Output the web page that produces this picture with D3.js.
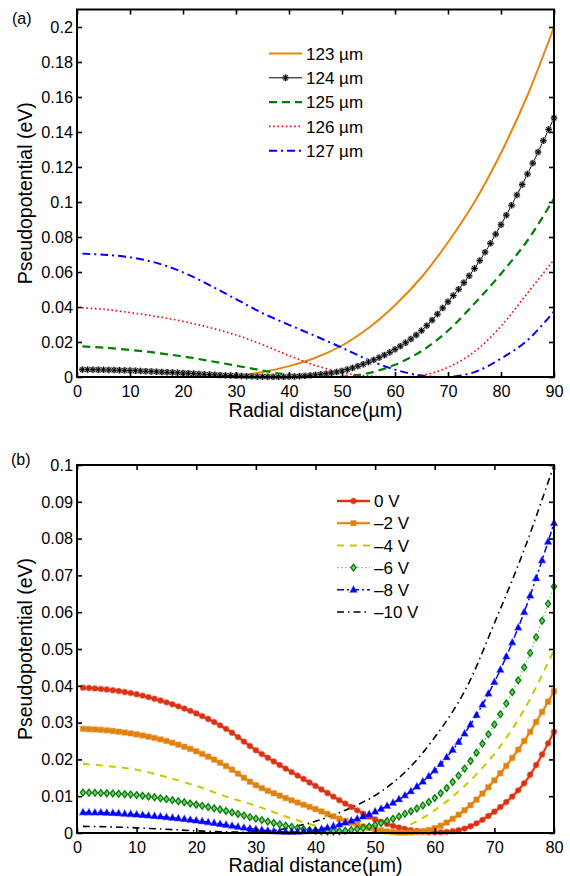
<!DOCTYPE html>
<html><head><meta charset="utf-8">
<script src="https://cdn.jsdelivr.net/npm/d3@7"></script>
<style>
html,body{margin:0;padding:0;background:#fff;}
svg{display:block;font-family:"Liberation Sans",Arial,Helvetica,sans-serif;}
</style></head>
<body>
<svg id="chart" width="570" height="876"></svg>
<script>
// ---------- data: panel (a) ----------
const xA = [1,5,10,15,20,25,30,35,40,45,50,55,60,65,70,75,80,85,90];
const a123 = [0,0,0,0,0,0,0.0008,0.0028,0.0062,0.011,0.018,0.028,0.041,0.057,0.077,0.1,0.128,0.161,0.2];
const a124 = [0.0042,0.0041,0.0037,0.003,0.0023,0.0014,0.0007,0.0002,0.0002,0.0012,0.0035,0.0085,0.0158,0.0265,0.043,0.062,0.087,0.116,0.148];
const a125 = [0.0175,0.0168,0.0155,0.0138,0.0117,0.0092,0.0065,0.0037,0.0013,0.0002,0.0001,0.0022,0.007,0.0148,0.0265,0.042,0.059,0.078,0.102];
const a126 = [0.0395,0.0387,0.0368,0.0346,0.0318,0.0283,0.024,0.0185,0.0122,0.0066,0.0025,0.0006,0,0.0009,0.0055,0.0145,0.029,0.048,0.067];
const a127 = [0.0705,0.0699,0.0684,0.0652,0.0598,0.0525,0.0445,0.0365,0.0298,0.0234,0.0167,0.0098,0.0042,0.0008,0,0.0028,0.0105,0.021,0.0375];
const labelsA = ["123 \u00b5m","124 \u00b5m","125 \u00b5m","126 \u00b5m","127 \u00b5m"];
const xTicksA = [0,10,20,30,40,50,60,70,80,90];
const yTicksA = [0,0.02,0.04,0.06,0.08,0.1,0.12,0.14,0.16,0.18,0.2];

// ---------- data: panel (b) ----------
const xB = [1,5,10,15,20,25,30,35,40,45,50,55,60,65,70,75,80];
const b0  = [0.0395,0.039,0.0377,0.0355,0.0325,0.0283,0.0225,0.0175,0.0128,0.008,0.0037,0.0011,0.0002,0.0012,0.0058,0.0135,0.0275];
const b2  = [0.0283,0.0279,0.0268,0.025,0.0222,0.0182,0.013,0.0095,0.0065,0.0033,0.001,0.0001,0.0013,0.0062,0.0143,0.025,0.0385];
const b4  = [0.0188,0.0182,0.0172,0.0152,0.0128,0.0099,0.0074,0.0045,0.002,0.0005,0.0002,0.0017,0.0062,0.0128,0.0215,0.0335,0.0497];
const b6  = [0.011,0.0108,0.0103,0.0092,0.0077,0.006,0.0039,0.002,0.0006,0.0006,0.0022,0.0052,0.0095,0.0175,0.0295,0.045,0.067];
const b8  = [0.0056,0.0055,0.005,0.0043,0.0034,0.0022,0.001,0.0003,0.0008,0.0028,0.0058,0.0102,0.017,0.027,0.041,0.06,0.0842];
const b10 = [0.0018,0.0017,0.0014,0.001,0.0006,0.0003,0.0003,0.0012,0.0032,0.0062,0.0102,0.0165,0.026,0.0385,0.057,0.077,0.1];
const labelsB = ["0 V","\u20132 V","\u20134 V","\u20136 V","\u20138 V","\u201310 V"];
const xTicksB = [0,10,20,30,40,50,60,70,80];
const yTicksB = [0,0.01,0.02,0.03,0.04,0.05,0.06,0.07,0.08,0.09,0.1];

const svg = d3.select("#chart");
const fmt = d3.format("~g");

// marker drawers
const markers = {
  asterisk: (g,x,y)=>{ const r=3.2, d=2.3;
    const p=`M${x-r},${y}L${x+r},${y}M${x},${y-r}L${x},${y+r}M${x-d},${y-d}L${x+d},${y+d}M${x-d},${y+d}L${x+d},${y-d}`;
    g.append("path").attr("d",p).attr("stroke","#999").attr("stroke-width",2.4).attr("fill","none");
    g.append("path").attr("d",p).attr("stroke","#000").attr("stroke-width",1).attr("fill","none"); },
  circle: (g,x,y,c)=>{ g.append("circle").attr("cx",x).attr("cy",y).attr("r",2.7).attr("fill",c).attr("stroke",c).attr("stroke-opacity",0.4).attr("stroke-width",1.4); },
  square: (g,x,y,c)=>{ g.append("rect").attr("x",x-2.6).attr("y",y-2.6).attr("width",5.2).attr("height",5.2).attr("fill",c).attr("stroke",c).attr("stroke-opacity",0.4).attr("stroke-width",1.4); },
  diamond: (g,x,y,c)=>{ g.append("path").attr("d",`M${x},${y-3.4}L${x+2.6},${y}L${x},${y+3.4}L${x-2.6},${y}Z`).attr("fill","#7fc07f").attr("stroke",c).attr("stroke-width",1.3); },
  triangle: (g,x,y,c)=>{ g.append("path").attr("d",`M${x},${y-3.8}L${x+3.4},${y+2.4}L${x-3.4},${y+2.4}Z`).attr("fill",c).attr("stroke",c).attr("stroke-opacity",0.45).attr("stroke-width",1.2); }
};

function panel(cfg){
  const {left,right,top,bottom,xMax,yMax,xTicks,yTicks,series,xs} = cfg;
  const x = d3.scaleLinear().domain([0,xMax]).range([left,right]);
  const y = d3.scaleLinear().domain([0,yMax]).range([bottom,top]);
  const g = svg.append("g");
  const clipId = "clip"+cfg.id;
  svg.append("clipPath").attr("id",clipId).append("rect")
     .attr("x",left).attr("y",top-2).attr("width",right-left).attr("height",bottom-top+2);
  const plot = g.append("g").attr("clip-path",`url(#${clipId})`);
  const line = d3.line().x((d,i)=>x(xs[i])).y(d=>y(Math.max(0,d))).curve(d3.curveCatmullRom.alpha(0.5));
  series.forEach(s=>{
    if (s.halo) plot.append("path").attr("d",line(s.values)).attr("fill","none")
       .attr("stroke",s.halo).attr("stroke-width",s.haloW||4).attr("stroke-opacity",0.45);
    const p = plot.append("path").attr("d",line(s.values)).attr("fill","none")
       .attr("stroke",s.lineColor||s.color).attr("stroke-width",s.width)
       .attr("stroke-dasharray",s.dash||null);
    if (s.marker){
      const node = p.node(), L = node.getTotalLength();
      const mg = g.append("g");
      for (let v = xs[0]; v <= xMax + 1e-9; v += s.step){
        const px = x(v); let lo=0, hi=L;
        for (let k=0;k<30;k++){ const m=(lo+hi)/2; if (node.getPointAtLength(m).x < px) lo=m; else hi=m; }
        const pt = node.getPointAtLength((lo+hi)/2);
        markers[s.marker](mg, pt.x, Math.min(pt.y,bottom), s.color);
      }
    }
  });
  // axes (ticks inward on all sides)
  const ax = (axis, tr, labels) => {
    const a = g.append("g").attr("transform",tr).call(axis);
    a.select(".domain").remove();
    a.selectAll(".tick line").attr("stroke","#000").attr("stroke-width",1.6);
    a.selectAll("text").attr("fill","#000").style("font-size","16.3px").style("font-family","'Liberation Sans',Arial,sans-serif");
    if(!labels) a.selectAll("text").remove();
  };
  ax(d3.axisBottom(x).tickValues(xTicks).tickFormat(fmt).tickSize(-5).tickPadding(8), `translate(0,${bottom})`, true);
  ax(d3.axisTop(x).tickValues(xTicks).tickSize(-5), `translate(0,${top})`, false);
  ax(d3.axisLeft(y).tickValues(yTicks).tickFormat(fmt).tickSize(-5).tickPadding(4), `translate(${left},0)`, true);
  ax(d3.axisRight(y).tickValues(yTicks).tickSize(-5), `translate(${right},0)`, false);
  g.append("rect").attr("x",left).attr("y",top).attr("width",right-left).attr("height",bottom-top)
   .attr("fill","none").attr("stroke","#000").attr("stroke-width",2);
  // labels
  g.append("text").attr("x",(left+right)/2).attr("y",cfg.xLabelY).attr("text-anchor","middle")
   .style("font-size","19.5px").text("Radial distance(\u00b5m)");
  g.append("text").attr("transform",`translate(${cfg.yLabelX},${(top+bottom)/2}) rotate(-90)`)
   .attr("text-anchor","middle").style("font-size","19.5px").text("Pseudopotential (eV)");
  g.append("text").attr("x",cfg.tagX).attr("y",cfg.tagY).style("font-size","16px").text(cfg.tag);
  // legend
  const lg = g.append("g");
  series.forEach((s,i)=>{
    const yy = cfg.legY + i*cfg.legDy;
    if (s.halo) lg.append("line").attr("x1",cfg.legX1).attr("x2",cfg.legX2).attr("y1",yy).attr("y2",yy)
        .attr("stroke",s.halo).attr("stroke-width",s.haloW||4).attr("stroke-opacity",0.45);
    lg.append("line").attr("x1",cfg.legX1).attr("x2",cfg.legX2).attr("y1",yy).attr("y2",yy)
      .attr("stroke",s.lineColor||s.color).attr("stroke-width",s.width).attr("stroke-dasharray",s.dash||null);
    if (s.marker) markers[s.marker](lg,(cfg.legX1+cfg.legX2)/2,yy,s.color);
    lg.append("text").attr("x",cfg.legX2+4).attr("y",yy).attr("dy","0.36em")
      .style("font-size","17px").text(s.label);
  });
}

panel({
  id:"a", left:77, right:554, top:9.5, bottom:377, xMax:90, yMax:0.21,
  xTicks:xTicksA, yTicks:yTicksA, xs:xA,
  xLabelY:417, yLabelX:32, tag:"(a)", tagX:12, tagY:24,
  legX1:269, legX2:302, legY:53.5, legDy:24.3,
  series:[
    {label:labelsA[0], values:a123, color:"#e8850f", width:2},
    {label:labelsA[1], values:a124, color:"#000", width:1, marker:"asterisk", step:1},
    {label:labelsA[2], values:a125, color:"#008000", width:2.2, dash:"8,5"},
    {label:labelsA[3], values:a126, color:"#ff0000", width:1.6, dash:"1.6,2.6"},
    {label:labelsA[4], values:a127, color:"#0000ff", width:2, dash:"8,4,2,4"}
  ]
});

panel({
  id:"b", left:77, right:554, top:465, bottom:833, xMax:80, yMax:0.1,
  xTicks:xTicksB, yTicks:yTicksB, xs:xB,
  xLabelY:872, yLabelX:32, tag:"(b)", tagX:11, tagY:465,
  legX1:337, legX2:370, legY:501, legDy:22.2,
  series:[
    {label:labelsB[0], values:b0, color:"#dc3214", width:1.8, halo:"#f2a08c", marker:"circle", step:1},
    {label:labelsB[1], values:b2, color:"#e0820f", width:1.8, halo:"#f5c083", marker:"square", step:1},
    {label:labelsB[2], values:b4, color:"#c8c800", width:2, dash:"7,6"},
    {label:labelsB[3], values:b6, color:"#008000", lineColor:"#6cc06c", width:1.3, dash:"1.5,2.5", marker:"diamond", step:1},
    {label:labelsB[4], values:b8, color:"#0000ff", width:1.5, dash:"7,3,2,3", marker:"triangle", step:1},
    {label:labelsB[5], values:b10, color:"#000", width:1.6, dash:"7,4,1.5,4"}
  ]
});
</script>
</body></html>
